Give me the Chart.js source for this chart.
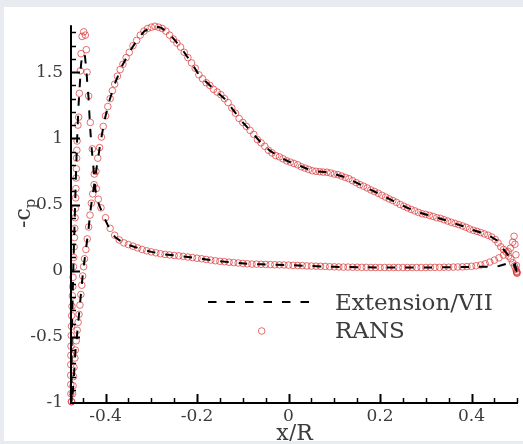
<!DOCTYPE html>
<html>
<head>
<meta charset="utf-8">
<script src="https://cdn.jsdelivr.net/npm/chart.js@4.4.1/dist/chart.umd.min.js"></script>
<style>
  html, body { margin: 0; padding: 0; background: #e8ebef; }
  #panel { position: absolute; left: 4px; top: 7px; width: 519px; height: 434px; background: #fff; }
  canvas { display: block; }
</style>
</head>
<body>
<div id="panel"><canvas id="cpChart" width="519" height="434"></canvas></div>
<script>
// Tick values
const xTicks = [-0.4, -0.2, 0, 0.2, 0.4];
const yTicks = [-1, -0.5, 0, 0.5, 1, 1.5];

// RANS - suction side (leading edge -> trailing edge)
const ransUpperX = [
  -0.474, -0.472, -0.471, -0.470, -0.469, -0.467, -0.466, -0.464, -0.462, -0.460,
  -0.458, -0.456, -0.454, -0.452, -0.450, -0.448, -0.446, -0.443, -0.440, -0.437,
  -0.434, -0.431, -0.428, -0.425, -0.421, -0.417, -0.413, -0.409, -0.405, -0.400,
  -0.395, -0.390, -0.385, -0.380, -0.374, -0.368, -0.362, -0.355, -0.348, -0.340,
  -0.332, -0.324, -0.316, -0.308, -0.300, -0.292, -0.284, -0.276, -0.268, -0.260,
  -0.252, -0.244, -0.236, -0.228, -0.220, -0.212, -0.204, -0.196, -0.188, -0.180,
  -0.172, -0.164, -0.156, -0.148, -0.140, -0.132, -0.124, -0.116, -0.108, -0.100,
  -0.092, -0.084, -0.076, -0.068, -0.060, -0.052, -0.044, -0.036, -0.028, -0.020,
  -0.012, -0.004, 0.004, 0.012, 0.020, 0.028, 0.036, 0.044, 0.052, 0.060,
  0.068, 0.076, 0.084, 0.092, 0.100, 0.108, 0.116, 0.124, 0.132, 0.140,
  0.148, 0.156, 0.164, 0.172, 0.180, 0.188, 0.196, 0.204, 0.212, 0.220,
  0.228, 0.236, 0.244, 0.252, 0.260, 0.268, 0.276, 0.284, 0.292, 0.300,
  0.308, 0.316, 0.324, 0.332, 0.340, 0.348, 0.356, 0.364, 0.372, 0.380,
  0.388, 0.396, 0.404, 0.412, 0.420, 0.428, 0.436, 0.444, 0.452, 0.458,
  0.464, 0.470, 0.476, 0.481, 0.486, 0.490, 0.494, 0.497, 0.499
];
const ransUpperY = [
  -0.99, -0.93, -0.87, -0.80, -0.73, -0.66, -0.60, -0.53, -0.45, -0.39,
  -0.33, -0.26, -0.18, -0.11, -0.04, 0.03, 0.09, 0.16, 0.24, 0.33,
  0.42, 0.51, 0.58, 0.65, 0.75, 0.85, 0.93, 1.01, 1.09, 1.17,
  1.24, 1.30, 1.36, 1.41, 1.47, 1.52, 1.56, 1.61, 1.65, 1.70,
  1.74, 1.78, 1.81, 1.83, 1.84, 1.847, 1.84, 1.83, 1.81, 1.78,
  1.75, 1.72, 1.69, 1.65, 1.61, 1.57, 1.53, 1.48, 1.45, 1.42,
  1.40, 1.37, 1.35, 1.33, 1.30, 1.27, 1.23, 1.19, 1.15, 1.12,
  1.09, 1.06, 1.03, 0.99, 0.966, 0.94, 0.91, 0.89, 0.87, 0.86,
  0.845, 0.83, 0.82, 0.81, 0.80, 0.785, 0.775, 0.765, 0.755, 0.751,
  0.748, 0.745, 0.744, 0.738, 0.730, 0.725, 0.715, 0.705, 0.695, 0.680,
  0.665, 0.650, 0.638, 0.625, 0.610, 0.598, 0.585, 0.570, 0.556, 0.542,
  0.530, 0.516, 0.500, 0.487, 0.475, 0.463, 0.452, 0.440, 0.430, 0.425,
  0.418, 0.410, 0.400, 0.395, 0.385, 0.375, 0.365, 0.357, 0.348, 0.338,
  0.328, 0.315, 0.305, 0.297, 0.288, 0.278, 0.268, 0.255, 0.235, 0.210,
  0.180, 0.160, 0.140, 0.110, 0.090, 0.060, 0.035, 0.010, -0.010
];

// RANS - leading-edge spike and pressure side
const ransLowerX = [
  -0.4746, -0.4757, -0.4760, -0.4762, -0.4760, -0.4758, -0.4755, -0.4750, -0.4745, -0.4740,
  -0.4733, -0.4725, -0.4717, -0.4710, -0.4702, -0.4695, -0.4687, -0.4680, -0.4674, -0.4666,
  -0.4659, -0.4653, -0.4648, -0.4642, -0.4637, -0.4632, -0.4627, -0.4622, -0.4604, -0.4587,
  -0.4572, -0.4550, -0.4535, -0.4513, -0.4478, -0.4441, -0.4420, -0.4404, -0.4370, -0.4333,
  -0.4289, -0.4246, -0.4202, -0.4159,
  -0.41, -0.40, -0.39, -0.38, -0.37, -0.36, -0.35, -0.34, -0.33, -0.32,
  -0.31, -0.30, -0.29, -0.28, -0.27, -0.26, -0.25, -0.24, -0.23, -0.22,
  -0.21, -0.20, -0.19, -0.18, -0.17, -0.16, -0.15, -0.14, -0.13, -0.12,
  -0.11, -0.10, -0.09, -0.08, -0.07, -0.06, -0.05, -0.04, -0.03, -0.02,
  -0.01, 0.00, 0.01, 0.02, 0.03, 0.04, 0.05, 0.06, 0.07, 0.08,
  0.09, 0.10, 0.11, 0.12, 0.13, 0.14, 0.15, 0.16, 0.17, 0.18,
  0.19, 0.20, 0.21, 0.22, 0.23, 0.24, 0.25, 0.26, 0.27, 0.28,
  0.29, 0.30, 0.31, 0.32, 0.33, 0.34, 0.35, 0.36, 0.37, 0.38,
  0.39, 0.40, 0.41, 0.42, 0.43, 0.44, 0.45, 0.46, 0.47, 0.48,
  0.485, 0.490, 0.493, 0.495, 0.497, 0.498, 0.499, 0.4985, 0.4995
];
const ransLowerY = [
  -0.99, -0.93, -0.86, -0.79, -0.71, -0.64, -0.57, -0.49, -0.42, -0.34,
  -0.27, -0.19, -0.12, -0.05, 0.03, 0.10, 0.18, 0.25, 0.32, 0.40,
  0.47, 0.55, 0.62, 0.70, 0.77, 0.85, 0.91, 0.98, 1.10, 1.16,
  1.34, 1.51, 1.64, 1.77, 1.805, 1.78, 1.67, 1.50, 1.32, 1.12,
  0.92, 0.73, 0.62, 0.54,
  0.475, 0.400, 0.320, 0.268, 0.232, 0.210, 0.197, 0.185, 0.172, 0.160,
  0.150, 0.142, 0.135, 0.128, 0.123, 0.119, 0.115, 0.112, 0.108, 0.103,
  0.099, 0.094, 0.090, 0.085, 0.080, 0.075, 0.071, 0.068, 0.064, 0.061,
  0.058, 0.055, 0.052, 0.050, 0.049, 0.048, 0.047, 0.046, 0.045, 0.044,
  0.043, 0.042, 0.040, 0.039, 0.038, 0.036, 0.035, 0.034, 0.033, 0.032,
  0.030, 0.029, 0.028, 0.027, 0.027, 0.026, 0.026, 0.025, 0.025, 0.024,
  0.024, 0.024, 0.024, 0.024, 0.024, 0.024, 0.024, 0.024, 0.024, 0.024,
  0.024, 0.024, 0.025, 0.025, 0.025, 0.026, 0.026, 0.027, 0.028, 0.029,
  0.031, 0.033, 0.037, 0.043, 0.052, 0.065, 0.080, 0.097, 0.118, 0.145,
  0.170, 0.215, 0.260, 0.200, 0.120, 0.040, -0.015, -0.005, -0.020
];

// Extension/VII - suction side (leading edge -> trailing edge)
const extUpperX = [
  -0.474, -0.470, -0.466, -0.461, -0.455, -0.449, -0.444, -0.438, -0.432, -0.426,
  -0.419, -0.411, -0.402, -0.392, -0.380, -0.365, -0.348, -0.330, -0.315, -0.300,
  -0.290, -0.278, -0.264, -0.248, -0.232, -0.214, -0.196, -0.178, -0.160, -0.140,
  -0.120, -0.100, -0.080, -0.060, -0.040, -0.020, 0.000, 0.020, 0.040, 0.060,
  0.080, 0.100, 0.120, 0.140, 0.160, 0.180, 0.200, 0.220, 0.240, 0.260,
  0.280, 0.300, 0.320, 0.340, 0.360, 0.380, 0.400, 0.420, 0.440, 0.455,
  0.465, 0.475, 0.485, 0.492, 0.499
];
const extUpperY = [
  -1.0, -0.85, -0.62, -0.44, -0.22, 0.0, 0.13, 0.29, 0.48, 0.62,
  0.79, 0.97, 1.14, 1.28, 1.41, 1.54, 1.65, 1.75, 1.81, 1.84,
  1.845, 1.835, 1.80, 1.74, 1.67, 1.58, 1.48, 1.42, 1.36, 1.30,
  1.21, 1.12, 1.045, 0.966, 0.905, 0.86, 0.825, 0.80, 0.77, 0.751,
  0.745, 0.73, 0.71, 0.68, 0.644, 0.61, 0.578, 0.542, 0.508, 0.475,
  0.446, 0.425, 0.405, 0.385, 0.361, 0.338, 0.31, 0.288, 0.262, 0.23,
  0.18, 0.14, 0.095, 0.05, -0.01
];

// Extension/VII - spike and pressure side (leading edge -> trailing edge)
const extLowerX = [
  -0.474, -0.4745, -0.474, -0.4725, -0.471, -0.469, -0.4665, -0.464, -0.4615, -0.459,
  -0.456, -0.4535, -0.451, -0.448, -0.445, -0.442, -0.4395, -0.437, -0.434, -0.431,
  -0.427, -0.4225, -0.4175, -0.411, -0.404, -0.396, -0.388, -0.378, -0.365, -0.35,
  -0.33, -0.30, -0.27, -0.24, -0.21, -0.18, -0.15, -0.12, -0.09, -0.06,
  -0.03, 0.0, 0.05, 0.10, 0.15, 0.20, 0.25, 0.30, 0.35, 0.40,
  0.44, 0.46, 0.475, 0.488, 0.495, 0.499
];
const extLowerY = [
  -1.0, -0.8, -0.55, -0.3, -0.05, 0.2, 0.5, 0.8, 1.05, 1.25,
  1.42, 1.56, 1.625, 1.645, 1.62, 1.52, 1.40, 1.30, 1.10, 0.95,
  0.80, 0.62, 0.53, 0.47, 0.41, 0.35, 0.29, 0.25, 0.22, 0.195,
  0.172, 0.142, 0.123, 0.112, 0.099, 0.085, 0.071, 0.061, 0.052, 0.048,
  0.045, 0.042, 0.035, 0.029, 0.026, 0.024, 0.024, 0.024, 0.026, 0.028,
  0.030, 0.035, 0.05, 0.07, 0.05, -0.01
];

function toPoints(xs, ys) {
    return xs.map((x, i) => ({ x: x, y: ys[i] }));
}

const ransPoints = toPoints(ransUpperX, ransUpperY).concat(toPoints(ransLowerX, ransLowerY));
// one continuous dashed curve: trailing edge -> suction side -> leading edge -> pressure side
const extPoints = toPoints(extUpperX, extUpperY).reverse().concat(toPoints(extLowerX, extLowerY));

const serif = 'DejaVu Serif';
const textColor = '#3c3c3c';
const ransColor = 'rgba(220, 50, 50, 0.7)';
const dashPattern = [8.5, 10];

// Inward ticks, axis lines, axis titles and the legend (Tecplot style)
const tecplotFrame = {
    id: 'tecplotFrame',
    afterDraw(chart) {
        const { ctx, chartArea: area, scales: { x, y } } = chart;
        ctx.save();
        ctx.strokeStyle = '#000';

        // x ticks every 0.05, major every 0.2
        for (let i = -9; i <= 10; i++) {
            const px = Math.round(x.getPixelForValue(i * 0.05)) + 0.5;
            const major = i % 4 === 0;
            ctx.lineWidth = major ? 2 : 1.5;
            ctx.beginPath();
            ctx.moveTo(px, area.bottom);
            ctx.lineTo(px, area.bottom - (major ? 9 : 5));
            ctx.stroke();
        }
        // y ticks every 0.1, major every 0.5
        for (let i = -9; i <= 18; i++) {
            const py = Math.round(y.getPixelForValue(i / 10)) + 0.5;
            const major = i % 5 === 0;
            ctx.lineWidth = major ? 2 : 1.5;
            ctx.beginPath();
            ctx.moveTo(area.left, py);
            ctx.lineTo(area.left + (major ? 9 : 5), py);
            ctx.stroke();
        }

        // axis lines
        ctx.lineWidth = 2;
        ctx.beginPath();
        ctx.moveTo(area.left, area.top);
        ctx.lineTo(area.left, area.bottom);
        ctx.lineTo(area.right, area.bottom);
        ctx.stroke();

        // x title
        ctx.fillStyle = textColor;
        ctx.font = '22px "' + serif + '"';
        ctx.textAlign = 'center';
        ctx.textBaseline = 'alphabetic';
        ctx.fillText('x/R', (area.left + area.right) / 2, 433);

        // y title: -c with subscript p, rotated
        ctx.save();
        ctx.translate(26, 221);
        ctx.rotate(-Math.PI / 2);
        ctx.textAlign = 'left';
        ctx.font = '22px "' + serif + '"';
        ctx.fillText('-c', 0, 0);
        const w = ctx.measureText('-c').width;
        ctx.font = '15px "' + serif + '"';
        ctx.fillText('p', w, 5);
        ctx.restore();

        // legend
        ctx.strokeStyle = '#000';
        ctx.lineWidth = 2;
        ctx.setLineDash(dashPattern);
        ctx.beginPath();
        ctx.moveTo(204, 295);
        ctx.lineTo(308, 295);
        ctx.stroke();
        ctx.setLineDash([]);

        ctx.strokeStyle = ransColor;
        ctx.lineWidth = 1;
        ctx.beginPath();
        ctx.arc(257.7, 324, 3.3, 0, Math.PI * 2);
        ctx.stroke();

        ctx.fillStyle = textColor;
        ctx.font = '23px "' + serif + '"';
        ctx.textAlign = 'left';
        ctx.fillText('Extension/VII', 331, 303);
        ctx.fillText('RANS', 331, 331);

        ctx.restore();
    }
};

new Chart(document.getElementById('cpChart'), {
    type: 'scatter',
    data: {
        datasets: [{
            label: 'Extension/VII',
            data: extPoints,
            showLine: true,
            borderColor: '#000',
            borderWidth: 2,
            borderDash: dashPattern,
            pointRadius: 0,
            fill: false,
            tension: 0,
            order: 1
        }, {
            label: 'RANS',
            data: ransPoints,
            showLine: false,
            pointStyle: 'circle',
            pointRadius: 3.3,
            pointBorderWidth: 1,
            pointBorderColor: ransColor,
            pointBackgroundColor: 'rgba(255, 255, 255, 0)',
            clip: 8,
            order: 2
        }]
    },
    options: {
        responsive: false,
        animation: false,
        devicePixelRatio: 1,
        layout: {
            padding: { top: 12, right: 3, left: 0, bottom: 0 }
        },
        plugins: {
            legend: { display: false },
            tooltip: { enabled: false }
        },
        scales: {
            x: {
                type: 'linear',
                min: -0.4755,
                max: 0.5016,
                grid: { display: false, drawTicks: false },
                border: { display: false },
                afterBuildTicks: function(scale) {
                    scale.ticks = xTicks.map(v => ({ value: v }));
                },
                afterFit: function(scale) {
                    scale.height = 38;
                },
                ticks: {
                    padding: 3,
                    color: textColor,
                    font: { family: serif, size: 17 },
                    callback: function(value) { return String(value); }
                }
            },
            y: {
                type: 'linear',
                min: -1,
                max: 1.855,
                grid: { display: false, drawTicks: false },
                border: { display: false },
                afterBuildTicks: function(scale) {
                    scale.ticks = yTicks.map(v => ({ value: v }));
                },
                afterFit: function(scale) {
                    scale.width = 67;
                },
                ticks: {
                    padding: 8,
                    color: textColor,
                    font: { family: serif, size: 17 },
                    callback: function(value) { return String(value); }
                }
            }
        }
    },
    plugins: [tecplotFrame]
});
</script>
</body>
</html>
